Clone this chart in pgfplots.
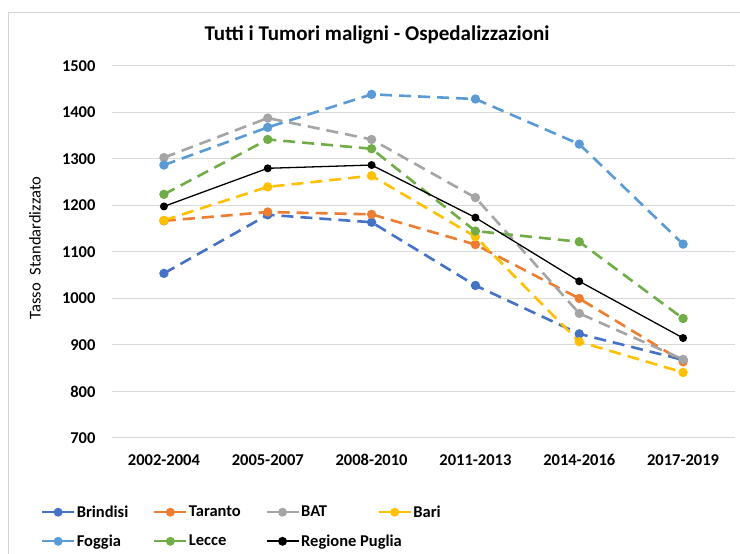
\documentclass[border=0pt]{standalone}
\usepackage{fontspec}
\setmainfont{Carlito}
\usepackage{pgfplots}
\usepackage{pgfplotstable}
\pgfplotsset{compat=1.18}
\definecolor{cBrindisi}{HTML}{4472C4}
\definecolor{cTaranto}{HTML}{ED7D31}
\definecolor{cBAT}{HTML}{A5A5A5}
\definecolor{cBari}{HTML}{FFC000}
\definecolor{cFoggia}{HTML}{5B9BD5}
\definecolor{cLecce}{HTML}{70AD47}
\definecolor{gridgray}{HTML}{D9D9D9}

\pgfplotstableread{
x Brindisi Taranto BAT  Bari Foggia Lecce Puglia
0 1054     1167    1303 1168 1287   1224  1198
1 1180     1186    1388 1240 1368   1342  1280
2 1164     1181    1342 1264 1439   1322  1287
3 1028     1116    1217 1133 1429   1145  1174
4 924      1000    968  907  1332   1122  1037
5 868      864     869  841  1117   957   915
}\datatable

\pgfplotsset{
  region/.style={#1, line width=2.6pt, dash pattern=on 12pt off 7pt,
    mark=*, mark size=3.3pt, mark options={solid, fill=#1, draw=#1}},
}
\newcommand{\lt}[1]{\makebox[75pt][l]{#1}}

\begin{document}
\begin{tikzpicture}
\useasboundingbox (0,0) rectangle (740pt,554pt);
\fill[white] (0,0) rectangle (740pt,554pt);
\draw[gray!35, line width=0.8pt] (8pt,0) -- (8pt,542pt) -- (740pt,542pt);
\node[font=\bfseries\fontsize{21}{25}\selectfont] at (377pt,519pt)
  {Tutti i Tumori maligni - Ospedalizzazioni};
\node[rotate=90, font=\fontsize{16.5}{19}\selectfont] at (35pt,306pt)
  {Tasso\ \ Standardizzato};
\begin{axis}[
  at={(112pt,116pt)}, anchor=south west,
  scale only axis, width=623pt, height=372pt,
  xmin=-0.5, xmax=5.5, ymin=700, ymax=1500,
  xtick=data,
  xticklabels={2002-2004,2005-2007,2008-2010,2011-2013,2014-2016,2017-2019},
  ytick={700,800,...,1500},
  ymajorgrids, grid style={gridgray, line width=1pt},
  axis line style={draw=none}, major tick length=0pt,
  /pgf/number format/assume math mode=true,
  /pgf/number format/1000 sep={},
  ticklabel style={font=\bfseries\fontsize{16.5}{19}\selectfont},
  yticklabel style={xshift=-13pt},
  xticklabel style={yshift=-13pt},
  clip=false,
  legend columns=4,
  legend style={at={(-0.119,-0.172)}, anchor=north west, draw=none, fill=none,
    font=\bfseries\fontsize{16.5}{19}\selectfont, row sep=13pt,
    nodes={inner sep=1.5pt}},
  legend cell align=left,
  legend image code/.code={
    \draw[mark repeat=2, mark phase=2, #1, line width=2.2pt, dash pattern=on 100pt off 0pt]
      plot coordinates {(0pt,0pt) (16pt,0pt) (32pt,0pt)};},
]
\addplot[region=cBrindisi] table[x=x, y=Brindisi] {\datatable};
\addlegendentry{\lt{Brindisi}}
\addplot[region=cTaranto] table[x=x, y=Taranto] {\datatable};
\addlegendentry{\lt{Taranto}}
\addplot[region=cBAT] table[x=x, y=BAT] {\datatable};
\addlegendentry{\lt{BAT}}
\addplot[region=cBari] table[x=x, y=Bari] {\datatable};
\addlegendentry{\lt{Bari}}
\addplot[region=cFoggia] table[x=x, y=Foggia] {\datatable};
\addlegendentry{\lt{Foggia}}
\addplot[region=cLecce] table[x=x, y=Lecce] {\datatable};
\addlegendentry{\lt{Lecce}}
\addplot[black, line width=1.3pt, mark=*, mark size=3.3pt] table[x=x, y=Puglia] {\datatable};
\addlegendentry{\lt{Regione Puglia}}
\end{axis}
\end{tikzpicture}
\end{document}
